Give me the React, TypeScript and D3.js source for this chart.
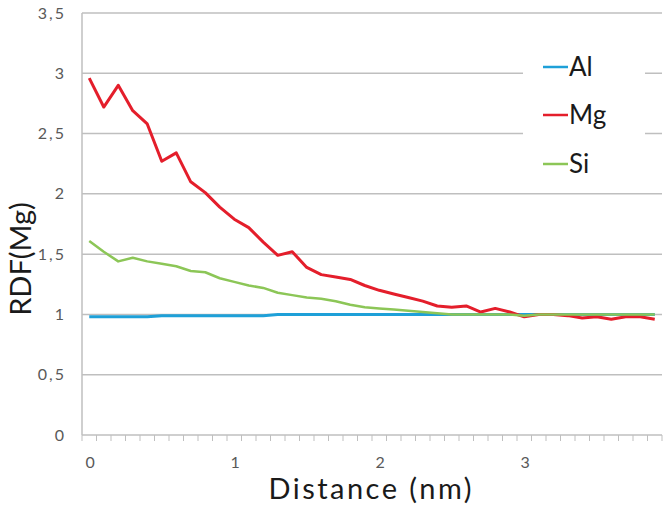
import React from "react";
import * as d3 from "d3";

const distances = d3.range(40).map((i) => i / 10);
const xTickLabels = ["0", "1", "2", "3"];
const yTicks = [0, 0.5, 1, 1.5, 2, 2.5, 3, 3.5];

const alValues = [
  0.98, 0.98, 0.98, 0.98, 0.98, 0.99, 0.99, 0.99, 0.99, 0.99,
  0.99, 0.99, 0.99, 1.0, 1.0, 1.0, 1.0, 1.0, 1.0, 1.0,
  1.0, 1.0, 1.0, 1.0, 1.0, 1.0, 1.0, 1.0, 1.0, 1.0,
  1.0, 1.0, 1.0, 1.0, 1.0, 1.0, 1.0, 1.0, 1.0, 1.0,
];
const mgValues = [
  2.96, 2.72, 2.9, 2.69, 2.58, 2.27, 2.34, 2.1, 2.01, 1.89,
  1.79, 1.72, 1.6, 1.49, 1.52, 1.39, 1.33, 1.31, 1.29, 1.24,
  1.2, 1.17, 1.14, 1.11, 1.07, 1.06, 1.07, 1.02, 1.05, 1.02,
  0.98, 1.0, 1.0, 0.99, 0.97, 0.98, 0.96, 0.98, 0.98, 0.96,
];
const siValues = [
  1.61, 1.52, 1.44, 1.47, 1.44, 1.42, 1.4, 1.36, 1.35, 1.3,
  1.27, 1.24, 1.22, 1.18, 1.16, 1.14, 1.13, 1.11, 1.08, 1.06,
  1.05, 1.04, 1.03, 1.02, 1.01, 1.0, 1.0, 1.0, 1.0, 1.0,
  0.99, 1.0, 1.0, 1.0, 1.0, 1.0, 1.0, 1.0, 1.0, 1.0,
];

const series = [
  { name: "Al", values: alValues, color: "#1ea0d8", width: 3 },
  { name: "Mg", values: mgValues, color: "#e41e2b", width: 3 },
  { name: "Si", values: siValues, color: "#8cc657", width: 2.5 },
];

const font = "Lato, 'Open Sans', sans-serif";

export default function App() {
  const width = 664;
  const height = 512;
  const left = 82;
  const right = 662;
  const top = 13;
  const bottom = 435;

  const x = d3
    .scaleBand<number>()
    .domain(d3.range(distances.length))
    .range([left, right]);
  const y = d3.scaleLinear().domain([0, 3.5]).range([bottom, top]);

  const line = d3
    .line<number>()
    .x((_, i) => (x(i) as number) + x.bandwidth() / 2)
    .y((d) => y(d));

  const legendY = [67, 115, 164];

  return (
    <svg
      width={width}
      height={height}
      style={{ position: "absolute", left: 0, top: 0, background: "#fff" }}
    >
      {yTicks.map((t) => (
        <g key={t}>
          {t > 0 && (
            <line x1={left} x2={right} y1={y(t)} y2={y(t)} stroke="#bfbfbf" strokeWidth={1.5} />
          )}
          <text
            x={left - 16}
            y={y(t)}
            dy="0.35em"
            textAnchor="end"
            fontFamily={font}
            fontSize={16}
            letterSpacing={2}
            fill="#595959"
          >
            {String(t).replace(".", ",")}
          </text>
        </g>
      ))}
      <line x1={left} x2={left} y1={top} y2={bottom} stroke="#bfbfbf" strokeWidth={1.5} />
      <line x1={left} x2={right} y1={bottom} y2={bottom} stroke="#bfbfbf" strokeWidth={1.5} />
      {d3.range(distances.length + 1).map((i) => {
        const xp = left + i * x.bandwidth();
        return <line key={i} x1={xp} x2={xp} y1={bottom} y2={bottom + 6} stroke="#bfbfbf" />;
      })}
      {xTickLabels.map((lab, k) => {
        const i = k * 10;
        return (
          <text
            key={lab}
            x={(x(i) as number) + x.bandwidth() / 2 + 1}
            y={bottom + 33}
            textAnchor="middle"
            fontFamily={font}
            fontSize={16}
            fill="#595959"
          >
            {lab}
          </text>
        );
      })}

      {/* legend box covers gridlines */}
      <rect x={523} y={45} width={122} height={140} fill="#fff" />

      {series.map((s) => (
        <path
          key={s.name}
          d={line(s.values) || ""}
          fill="none"
          stroke={s.color}
          strokeWidth={s.width}
          strokeLinejoin="round"
        />
      ))}

      {series.map((s, i) => (
        <g key={s.name}>
          <line x1={543} x2={568} y1={legendY[i]} y2={legendY[i]} stroke={s.color} strokeWidth={2.5} />
          <text
            x={569}
            y={legendY[i]}
            dy="0.36em"
            fontFamily={font}
            fontSize={26}
            fill="#1a1a1a"
          >
            {s.name}
          </text>
        </g>
      ))}

      <text
        transform={`translate(31,259) rotate(-90)`}
        textAnchor="middle"
        fontFamily={font}
        fontSize={29}
        fill="#1a1a1a"
      >
        RDF(Mg)
      </text>
      <text
        x={370}
        y={499}
        textAnchor="middle"
        fontFamily={font}
        fontSize={29}
        textLength={203}
        lengthAdjust="spacing"
        fill="#1a1a1a"
      >
        Distance (nm)
      </text>
    </svg>
  );
}
